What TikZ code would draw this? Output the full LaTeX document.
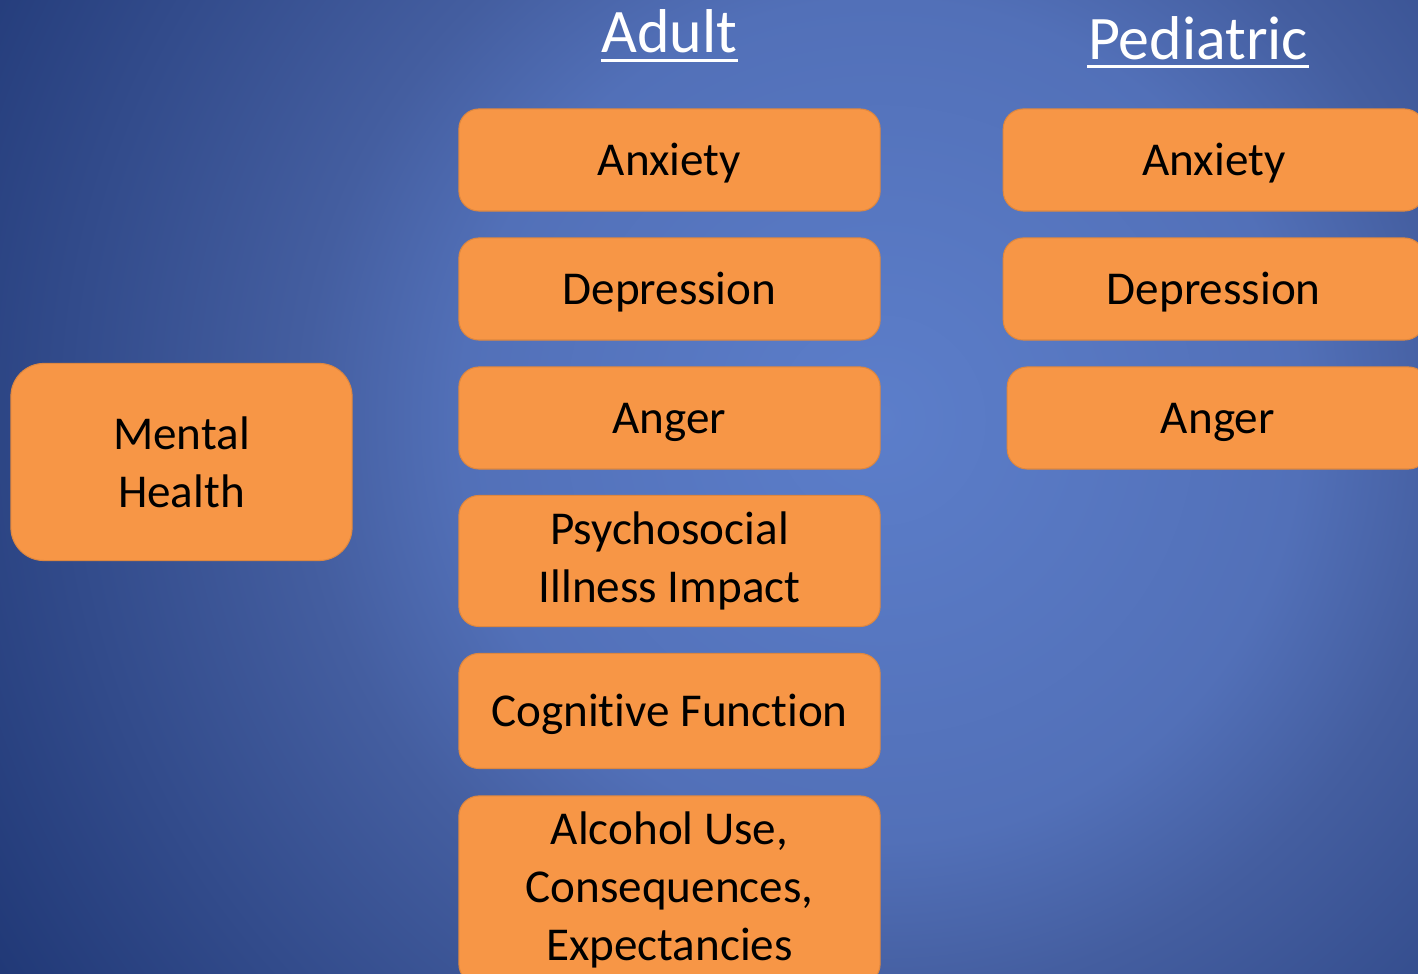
\documentclass[tikz,border=0pt]{standalone}
\usepackage{fontspec}
\setmainfont{Carlito}[Ligatures=NoCommon]
\usetikzlibrary{positioning}
\definecolor{boxorange}{RGB}{247,150,70}
\definecolor{bglight}{RGB}{92,126,202}
\definecolor{bgsoft}{RGB}{82,112,184}
\definecolor{bgmid}{RGB}{68,94,160}
\definecolor{bgdark}{RGB}{32,56,118}
% stops up to 25bp span half the shaded square
\pgfdeclareradialshading{slideglow}{\pgfpoint{0bp}{0bp}}{color(0bp)=(bglight); color(10bp)=(bgsoft);
  color(13.75bp)=(bgmid); color(25bp)=(bgdark); color(50bp)=(bgdark)}
\tikzset{
  topic/.style={rectangle, rounded corners=0.2cm, fill=boxorange, draw=boxorange!90!black,
    line width=0.3pt, outer sep=0pt, minimum width=4.21cm, minimum height=1.02cm, inner sep=0pt,
    align=center, text=black, font=\fontsize{13.4}{16.5}\selectfont},
  oneline/.style={text height=0.40cm, text depth=0.09cm},
  heading/.style={text=white, inner sep=0pt, anchor=base, font=\fontsize{17.6}{21}\selectfont},
  underbar/.style={white, line width=0.03cm}
}

\begin{document}
\begin{tikzpicture}[x=0.01cm, y=-0.01cm]
    \useasboundingbox (0,0) rectangle (1418,974);
    \clip (0,0) rectangle (1418,974);
    % slide background
    \shade[shading=slideglow] (-170,-630) rectangle (1930,1470);

    % headings
    \node[heading] (adult) at (669.5,53) {Adult};
    \node[heading] (pediatric) at (1198,60) {Pediatric};
    \draw[underbar] ([yshift=-0.08cm]adult.base west) -- ([yshift=-0.08cm]adult.base east);
    \draw[underbar] ([yshift=-0.07cm]pediatric.base west) -- ([yshift=-0.07cm]pediatric.base east);

    % left box
    \node[topic, minimum width=3.41cm, minimum height=1.97cm, rounded corners=0.33cm] (mental) at (181.5,462) {Mental\\Health};

    % adult column
    \node[topic, oneline] (anxA) at (669.5,160) {Anxiety};
    \node[topic, oneline] (depA) at (669.5,289) {Depression};
    \node[topic, oneline] (angA) at (669.5,418) {Anger};
    \node[topic, minimum height=1.31cm] (psyA) at (669.5,561) {Psychosocial\\Illness Impact};
    \node[topic, oneline, minimum height=1.15cm] (cogA) at (669.5,711) {Cognitive Function};
    \node[topic, minimum height=1.88cm] (alcA) at (669.5,890) {Alcohol Use,\\Consequences,\\Expectancies};

    % pediatric column
    \node[topic, oneline] (anxP) [right=1.23cm of anxA] {Anxiety};
    \node[topic, oneline] (depP) [right=1.23cm of depA] {Depression};
    \node[topic, oneline] (angP) [right=1.27cm of angA] {Anger};
\end{tikzpicture}
\end{document}
